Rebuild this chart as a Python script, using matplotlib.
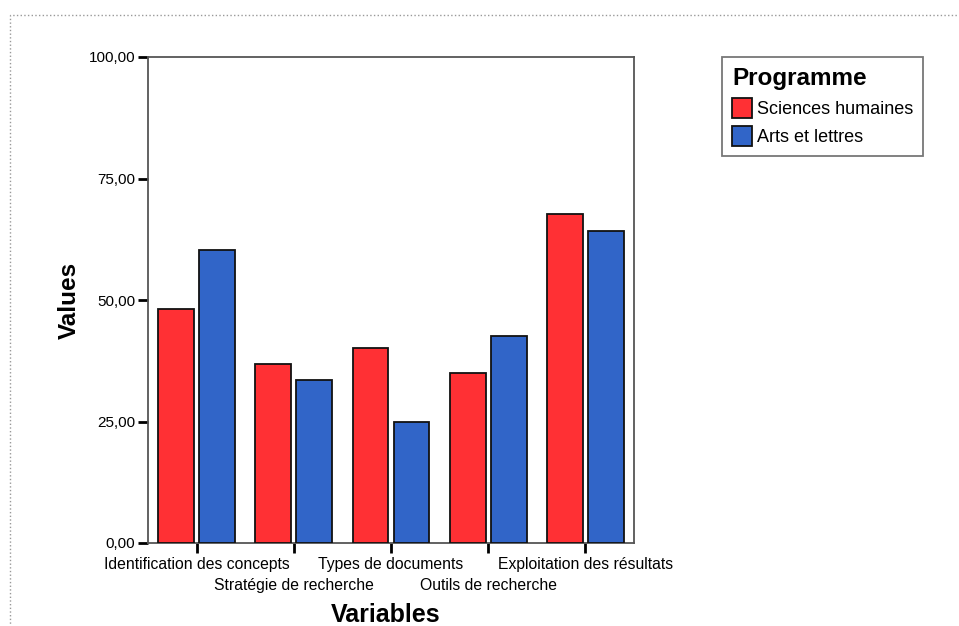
import matplotlib.pyplot as plt
import numpy as np
from matplotlib.patches import Rectangle

variables = ["Identification des concepts", "Stratégie de recherche", "Types de documents",
             "Outils de recherche", "Exploitation des résultats"]
sciences_humaines = [48.2, 36.8, 40.2, 35.0, 67.6]
arts_lettres = [60.3, 33.6, 25.0, 42.6, 64.1]
yticks = [0, 25, 50, 75, 100]

plt.rcParams['font.family'] = ['Liberation Sans', 'DejaVu Sans']

fig = plt.figure(figsize=(9.59, 6.26), dpi=100)
ax = fig.add_axes([148 / 959, 83 / 626, 486 / 959, 486 / 626])

x = np.arange(len(variables))
w = 0.37
off = 0.211
ax.bar(x - off, sciences_humaines, w, color='#ff3034', edgecolor='#111111', linewidth=1.3,
       label='Sciences humaines', zorder=3)
ax.bar(x + off, arts_lettres, w, color='#3165c8', edgecolor='#111111', linewidth=1.3,
       label='Arts et lettres', zorder=3)

ax.set_xlim(-0.5, len(variables) - 0.5)
ax.set_ylim(0, 100)
ax.set_yticks(yticks)
ax.set_yticklabels([f"{v:.2f}".replace('.', ',') for v in yticks], fontsize=11)

# labels on two rows: even ones on major ticks, odd ones on minor ticks
ax.set_xticks(x[::2])
ax.set_xticklabels(variables[::2], fontsize=11.3)
ax.set_xticks(x[1::2], minor=True)
ax.set_xticklabels(variables[1::2], minor=True, fontsize=11.3)
ax.tick_params(axis='both', which='both', length=7, width=2, color='black', direction='out')
ax.tick_params(axis='x', which='major', pad=3)
ax.tick_params(axis='x', which='minor', pad=18)
ax.tick_params(axis='y', pad=2)
for s in ax.spines.values():
    s.set_color('#555555')
    s.set_linewidth(1.3)

ax.set_ylabel('Values', fontsize=17.5, fontweight='bold', va='center')
ax.yaxis.set_label_coords(-0.162, 0.5)
ax.set_xlabel('Variables', fontsize=18, fontweight='bold', va='center')
ax.xaxis.set_label_coords(0.49, -0.148)

leg = fig.legend(loc='upper left', bbox_to_anchor=(722 / 959, 1 - 57 / 626), title='Programme',
                 fontsize=13, title_fontproperties={'weight': 'bold', 'size': 17.5},
                 frameon=True, fancybox=False, borderpad=0.55, borderaxespad=0,
                 handlelength=1.1, handleheight=1.3,
                 handletextpad=0.3, labelspacing=0.45, alignment='left')
leg.get_frame().set_edgecolor('#555555')
leg.get_frame().set_linewidth(1.3)

# dotted frame (only top/left visible)
fig.patches.append(Rectangle((10 / 959, -0.05), 1.1, 1 - 15 / 626 + 0.05, transform=fig.transFigure,
                             fill=False, edgecolor='#999999', linestyle=':', linewidth=1))

fig.savefig('out.png', dpi=100)
